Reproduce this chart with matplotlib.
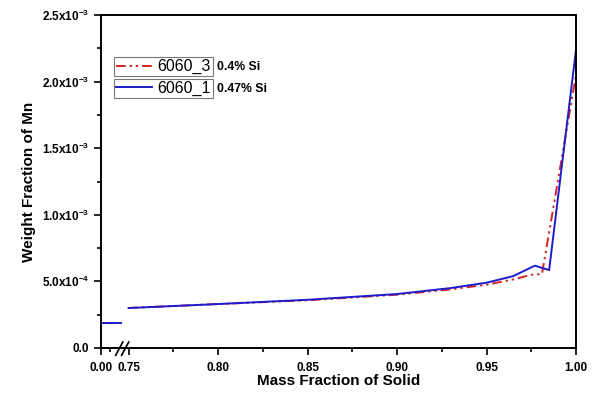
import numpy as np
import matplotlib
matplotlib.use('Agg')
import matplotlib.pyplot as plt
from matplotlib.ticker import FixedLocator, FuncFormatter

plt.rcParams['font.family'] = ['Liberation Sans', 'DejaVu Sans']
plt.rcParams['mathtext.fontset'] = 'custom'
plt.rcParams['mathtext.rm'] = 'Liberation Sans:bold'
plt.rcParams['mathtext.bf'] = 'Liberation Sans:bold'

# liquid part (left of the axis break)
x_liq = [0.0, 0.011]
y_liq_3 = [0.19e-3, 0.19e-3]
y_liq_1 = [0.19e-3, 0.19e-3]

# 6060_3, 0.4% Si
x_3 = [0.75, 0.80, 0.85, 0.90, 0.93, 0.95, 0.965, 0.975, 0.981, 1.0]
y_3 = [0.300e-3, 0.330e-3, 0.358e-3, 0.400e-3, 0.440e-3, 0.475e-3,
       0.515e-3, 0.550e-3, 0.555e-3, 2.05e-3]

# 6060_1, 0.47% Si
x_1 = [0.75, 0.80, 0.85, 0.90, 0.93, 0.95, 0.965, 0.977, 0.985, 1.0]
y_1 = [0.300e-3, 0.330e-3, 0.362e-3, 0.405e-3, 0.450e-3, 0.490e-3,
       0.540e-3, 0.618e-3, 0.585e-3, 2.24e-3]

x_major = [0.0, 0.75, 0.80, 0.85, 0.90, 0.95, 1.00]
x_minor = [0.005, 0.775, 0.825, 0.875, 0.925, 0.975]
y_major = [0.0, 0.5e-3, 1.0e-3, 1.5e-3, 2.0e-3, 2.5e-3]
y_labels = ['0.0', '5.0x10$^{-4}$', '1.0x10$^{-3}$', '1.5x10$^{-3}$',
            '2.0x10$^{-3}$', '2.5x10$^{-3}$']

GAP = 0.0154


def fwd(x):
    x = np.asarray(x, dtype=float)
    return np.where(x < 0.5, x, x - 0.75 + GAP)


def inv(t):
    t = np.asarray(t, dtype=float)
    return np.where(t < 0.0135, t, t + 0.75 - GAP)


fig = plt.figure(figsize=(5.99, 3.94), dpi=100)
ax = fig.add_axes([0.1686, 0.1168, 0.793, 0.845])
ax.set_xscale('function', functions=(fwd, inv))

red = '#d42424'
blue = '#1c1ccc'
ls_red = (0, (5, 2, 1.2, 2, 1.2, 2))

ax.plot(x_liq, y_liq_3, color=red, ls=ls_red, lw=1.4)
ax.plot(x_liq, y_liq_1, color=blue, lw=1.4)
l3, = ax.plot(x_3, y_3, color=red, ls=ls_red, lw=1.4)
l1, = ax.plot(x_1, y_1, color=blue, lw=1.4)

ax.set_xlim(0.0, 1.0)
ax.set_ylim(0.0, 2.5e-3)

ax.xaxis.set_major_locator(FixedLocator(x_major))
ax.xaxis.set_minor_locator(FixedLocator(x_minor))
ax.xaxis.set_major_formatter(FuncFormatter(lambda v, p: f'{v:.2f}'))
ax.yaxis.set_major_locator(FixedLocator(y_major))
ax.yaxis.set_minor_locator(FixedLocator([0.25e-3, 0.75e-3, 1.25e-3,
                                         1.75e-3, 2.25e-3]))
ax.set_yticklabels(y_labels)

ax.tick_params(which='major', direction='out', length=5, width=1.2,
               labelsize=8.5)
ax.tick_params(axis='x', which='major', pad=5)
ax.tick_params(which='minor', direction='out', length=3, width=1.2)
for lab in ax.get_xticklabels() + ax.get_yticklabels():
    lab.set_fontweight('bold')
for s in ax.spines.values():
    s.set_linewidth(1.4)

ax.set_xlabel('Mass Fraction of Solid', fontsize=11, fontweight='bold',
              labelpad=0)
ax.set_ylabel('Weight Fraction of Mn', fontsize=11, fontweight='bold',
              labelpad=4)

# break marks on the x axis
trans = ax.get_xaxis_transform()
for xb in [0.0102, 0.0135]:
    ax.plot([xb - 0.002, xb + 0.002], [-0.022, 0.018],
            transform=trans, color='black', lw=1.2, clip_on=False)

leg_kw = dict(loc='upper left', fontsize=11.5, frameon=True, fancybox=False,
              edgecolor='#555555', borderpad=0.12, handlelength=2.3,
              handletextpad=0.3, borderaxespad=0)
leg1 = ax.legend([l3], ['6060_3'], bbox_to_anchor=(0.027, 0.873), **leg_kw)
leg1.get_frame().set_linewidth(0.8)
ax.add_artist(leg1)
leg2 = ax.legend([l1], ['6060_1'], bbox_to_anchor=(0.027, 0.808), **leg_kw)
leg2.get_frame().set_linewidth(0.8)

ax.text(0.245, 0.843, '0.4% Si', transform=ax.transAxes, fontsize=8.8,
        fontweight='bold', va='center')
ax.text(0.245, 0.777, '0.47% Si', transform=ax.transAxes, fontsize=8.8,
        fontweight='bold', va='center')

fig.savefig('out.png', dpi=100)
